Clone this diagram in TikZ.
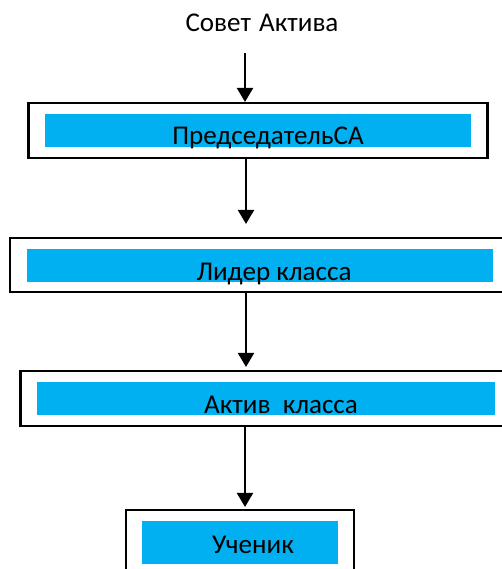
\documentclass[tikz,border=0pt]{standalone}
\usepackage{fontspec}
\setmainfont{Carlito}
\usetikzlibrary{arrows.meta}
\definecolor{fillblue}{HTML}{00B0F0}
\tikzset{
  outerbox/.style={draw=black, line width=1.6pt, rectangle, inner sep=0pt},
  bluebar/.style={fill=fillblue, rectangle, inner sep=0pt},
  lbl/.style={anchor=base, inner sep=0pt, font=\fontsize{20.3}{24}\selectfont},
  conn/.style={line width=1.7pt, -{Triangle[width=12pt,length=10.5pt]}}
}
\begin{document}
\begin{tikzpicture}[x=0.75pt, y=-0.75pt]
\useasboundingbox (0,0) rectangle (502,569);
\clip (0,0) rectangle (502,569);
% title
\node[lbl] (title) at (262,31) {Совет\hspace{0.3em}Актива};
\coordinate (s1) at (245,53);
% box 1
\node[outerbox, minimum width=459*0.75pt, minimum height=55*0.75pt] (b1) at (258,130.5) {};
\node[bluebar, minimum width=426*0.75pt, minimum height=33*0.75pt] (f1) at (258,130.5) {};
\node[lbl] (t1) at (268,144) {ПредседательСА};
% box 2
\node[outerbox, minimum width=500*0.75pt, minimum height=54*0.75pt] (b2) at (260,265) {};
\node[bluebar, minimum width=466*0.75pt, minimum height=33*0.75pt] (f2) at (260,265.5) {};
\node[lbl] (t2) at (274,280) {Лидер класса};
% box 3
\node[outerbox, minimum width=490*0.75pt, minimum height=55*0.75pt] (b3) at (265.5,398.5) {};
\node[bluebar, minimum width=458*0.75pt, minimum height=33*0.75pt] (f3) at (266,398.5) {};
\node[lbl] (t3) at (281,413) {Актив\ \ класса};
% box 4
\node[outerbox, minimum width=228*0.75pt, minimum height=70*0.75pt] (b4) at (240,545) {};
\node[bluebar, minimum width=196*0.75pt, minimum height=43*0.75pt] (f4) at (240,542.5) {};
\node[lbl] (t4) at (253,553) {Ученик};
% connectors
\draw[conn] (s1) -- (b1.north -| s1);
\coordinate (s2) at (246,0);
\draw[conn, shorten >=13*0.75pt] (b1.south -| s2) -- (b2.north -| s2);
\draw[conn, shorten >=3*0.75pt] (b2.south -| s2) -- (b3.north -| s2);
\coordinate (s4) at (245,0);
\draw[conn, shorten >=2*0.75pt] (b3.south -| s4) -- (b4.north -| s4);
\end{tikzpicture}
\end{document}
